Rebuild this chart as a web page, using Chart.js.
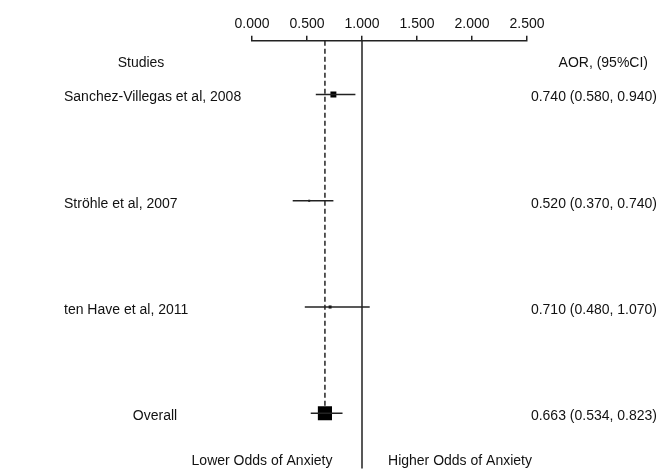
<!DOCTYPE html>
<html>
<head>
<meta charset="utf-8">
<script src="https://cdn.jsdelivr.net/npm/chart.js@4"></script>
<style>
  body { margin: 0; background: #fff; }
  #wrap { width: 659px; height: 470px; }
</style>
</head>
<body>
<div id="wrap"><canvas id="forest"></canvas></div>
<script>
// forest plot data
var studies = ['Sanchez-Villegas et al, 2008', 'Ströhle et al, 2007', 'ten Have et al, 2011', 'Overall'];
var rows = [1, 2, 3, 4];
var aor = [0.740, 0.520, 0.710, 0.663];
var lower = [0.580, 0.370, 0.480, 0.534];
var upper = [0.940, 0.740, 1.070, 0.823];
var markerRadius = [4.2, 1.4, 2.1, 10];
var xTicks = [0, 0.5, 1, 1.5, 2, 2.5];

var yMin = 0.494, yMax = 4.44;
var ink = '#222';
var font = '14px "Liberation Sans", Arial, sans-serif';

var datasets = [];

// confidence intervals
for (var i = 0; i < studies.length; i++) {
    datasets.push({
        type: 'line',
        data: [{x: lower[i], y: rows[i]}, {x: upper[i], y: rows[i]}],
        borderColor: ink,
        borderWidth: 1.5,
        pointRadius: 0
    });
}

// line of no effect and pooled estimate
datasets.push({
    type: 'line',
    data: [{x: 1, y: yMin}, {x: 1, y: 4.52}],
    borderColor: ink,
    borderWidth: 1.5,
    pointRadius: 0,
    clip: false
});
datasets.push({
    type: 'line',
    data: [{x: aor[3], y: yMin}, {x: aor[3], y: 3.93}],
    borderColor: ink,
    borderWidth: 1.5,
    borderDash: [5, 3],
    pointRadius: 0
});

// point estimates
datasets.push({
    type: 'scatter',
    data: aor.map(function (v, i) { return {x: v, y: rows[i]}; }),
    pointStyle: 'rect',
    pointRadius: markerRadius,
    backgroundColor: '#000',
    borderColor: '#000',
    borderWidth: 0
});

var labelsPlugin = {
    id: 'forestLabels',
    afterDraw: function (chart) {
        var c = chart.ctx;
        var ys = chart.scales.y;
        c.save();
        c.font = font;
        c.fillStyle = '#111';
        c.textBaseline = 'middle';

        c.textAlign = 'center';
        c.fillText('Studies', 141, 63);
        c.textAlign = 'right';
        c.fillText('AOR, (95%CI)', 648, 63);

        for (var i = 0; i < studies.length; i++) {
            var y = ys.getPixelForValue(rows[i]) + 3;
            if (i === studies.length - 1) {
                c.textAlign = 'center';
                c.fillText(studies[i], 155, y);
            } else {
                c.textAlign = 'left';
                c.fillText(studies[i], 64, y);
            }
            c.textAlign = 'right';
            c.fillText(aor[i].toFixed(3) + ' (' + lower[i].toFixed(3) + ', ' + upper[i].toFixed(3) + ')', 657, y);
        }

        c.textAlign = 'center';
        c.fillText('Lower Odds of Anxiety', 262, 461);
        c.fillText('Higher Odds of Anxiety', 460, 461);
        c.restore();
    }
};

new Chart(document.getElementById('forest').getContext('2d'), {
    type: 'scatter',
    data: { datasets: datasets },
    plugins: [labelsPlugin],
    options: {
        responsive: true,
        maintainAspectRatio: false,
        animation: false,
        layout: { padding: { left: 252, right: 132, top: 13, bottom: 4 } },
        plugins: { legend: { display: false }, tooltip: { enabled: false } },
        scales: {
            x: {
                type: 'linear',
                position: 'top',
                min: 0,
                max: 2.5,
                afterBuildTicks: function (axis) {
                    axis.ticks = xTicks.map(function (v) { return {value: v}; });
                },
                ticks: {
                    color: '#111',
                    font: { family: '"Liberation Sans", Arial, sans-serif', size: 14 },
                    padding: 3,
                    maxRotation: 0,
                    callback: function (v) { return Number(v).toFixed(3); }
                },
                grid: { drawOnChartArea: false, drawTicks: true, tickLength: 5, color: ink, lineWidth: 1.5 },
                border: { display: true, color: ink, width: 1.5 }
            },
            y: {
                type: 'linear',
                reverse: true,
                min: yMin,
                max: yMax,
                display: false
            }
        }
    }
});
</script>
</body>
</html>
